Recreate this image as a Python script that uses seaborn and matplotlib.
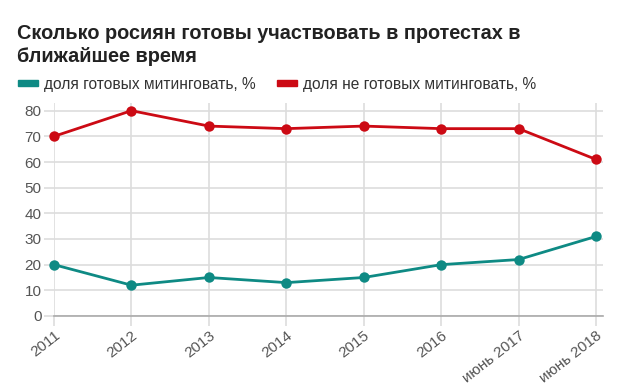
import matplotlib
matplotlib.use("Agg")
import matplotlib.pyplot as plt
import seaborn as sns
import pandas as pd
from matplotlib.patches import Patch

categories = ["2011", "2012", "2013", "2014", "2015", "2016", "июнь 2017", "июнь 2018"]
ready = [20, 12, 15, 13, 15, 20, 22, 31]
not_ready = [70, 80, 74, 73, 74, 73, 73, 61]
series_names = ["доля готовых митинговать, %", "доля не готовых митинговать, %"]
colors = ["#0e8a84", "#cc0a14"]
yticks = [0, 10, 20, 30, 40, 50, 60, 70, 80]

df = pd.DataFrame({
    "x": list(range(len(categories))) * 2,
    "value": ready + not_ready,
    "series": [series_names[0]] * len(categories) + [series_names[1]] * len(categories),
})

sns.set_theme(style="white")
plt.rcParams["font.family"] = ["Liberation Sans", "DejaVu Sans"]

fig = plt.figure(figsize=(6.2, 3.92), dpi=100)
ax = fig.add_axes([0.0871, 0.1939, 0.8855, 0.5434])

sns.lineplot(data=df, x="x", y="value", hue="series", palette=colors,
             marker="o", markersize=7.5, markeredgewidth=0, linewidth=2,
             legend=False, ax=ax, clip_on=False, zorder=3)

ax.set_xlim(0, 7.09)
ax.set_ylim(0, 83)
ax.set_xticks(range(len(categories)))
ax.set_xticklabels(categories, rotation=38, ha="right", rotation_mode="anchor",
                   fontsize=11, color="#555555")
ax.set_yticks(yticks)
ax.set_yticklabels([str(v) for v in yticks], fontsize=11, color="#555555")
ax.grid(True, color="#dddddd", linewidth=1.2)
ax.tick_params(axis="both", length=7, width=1.2, color="#dddddd", pad=2, bottom=True, left=True)
for s in ["top", "right", "left"]:
    ax.spines[s].set_visible(False)
ax.spines["bottom"].set_color("#aaaaaa")
ax.spines["bottom"].set_linewidth(1.2)
ax.set_xlabel("")
ax.set_ylabel("")

fig.text(17/620, 1 - 24/392, "Сколько росиян готовы участвовать в протестах в\nближайшее время",
         fontsize=14.3, fontweight="bold", color="#222222", va="top", ha="left",
         linespacing=1.25)

handles = [Patch(color=c) for c in colors]
fig.legend(handles, series_names, loc="center left", bbox_to_anchor=(18/620, 1 - 84/392),
           ncol=2, frameon=False, fontsize=11.2, handlelength=1.3, handleheight=0.25,
           handletextpad=0.35, columnspacing=1.4, labelcolor="#333333",
           borderpad=0, borderaxespad=0)

fig.savefig("out.png", dpi=100)
